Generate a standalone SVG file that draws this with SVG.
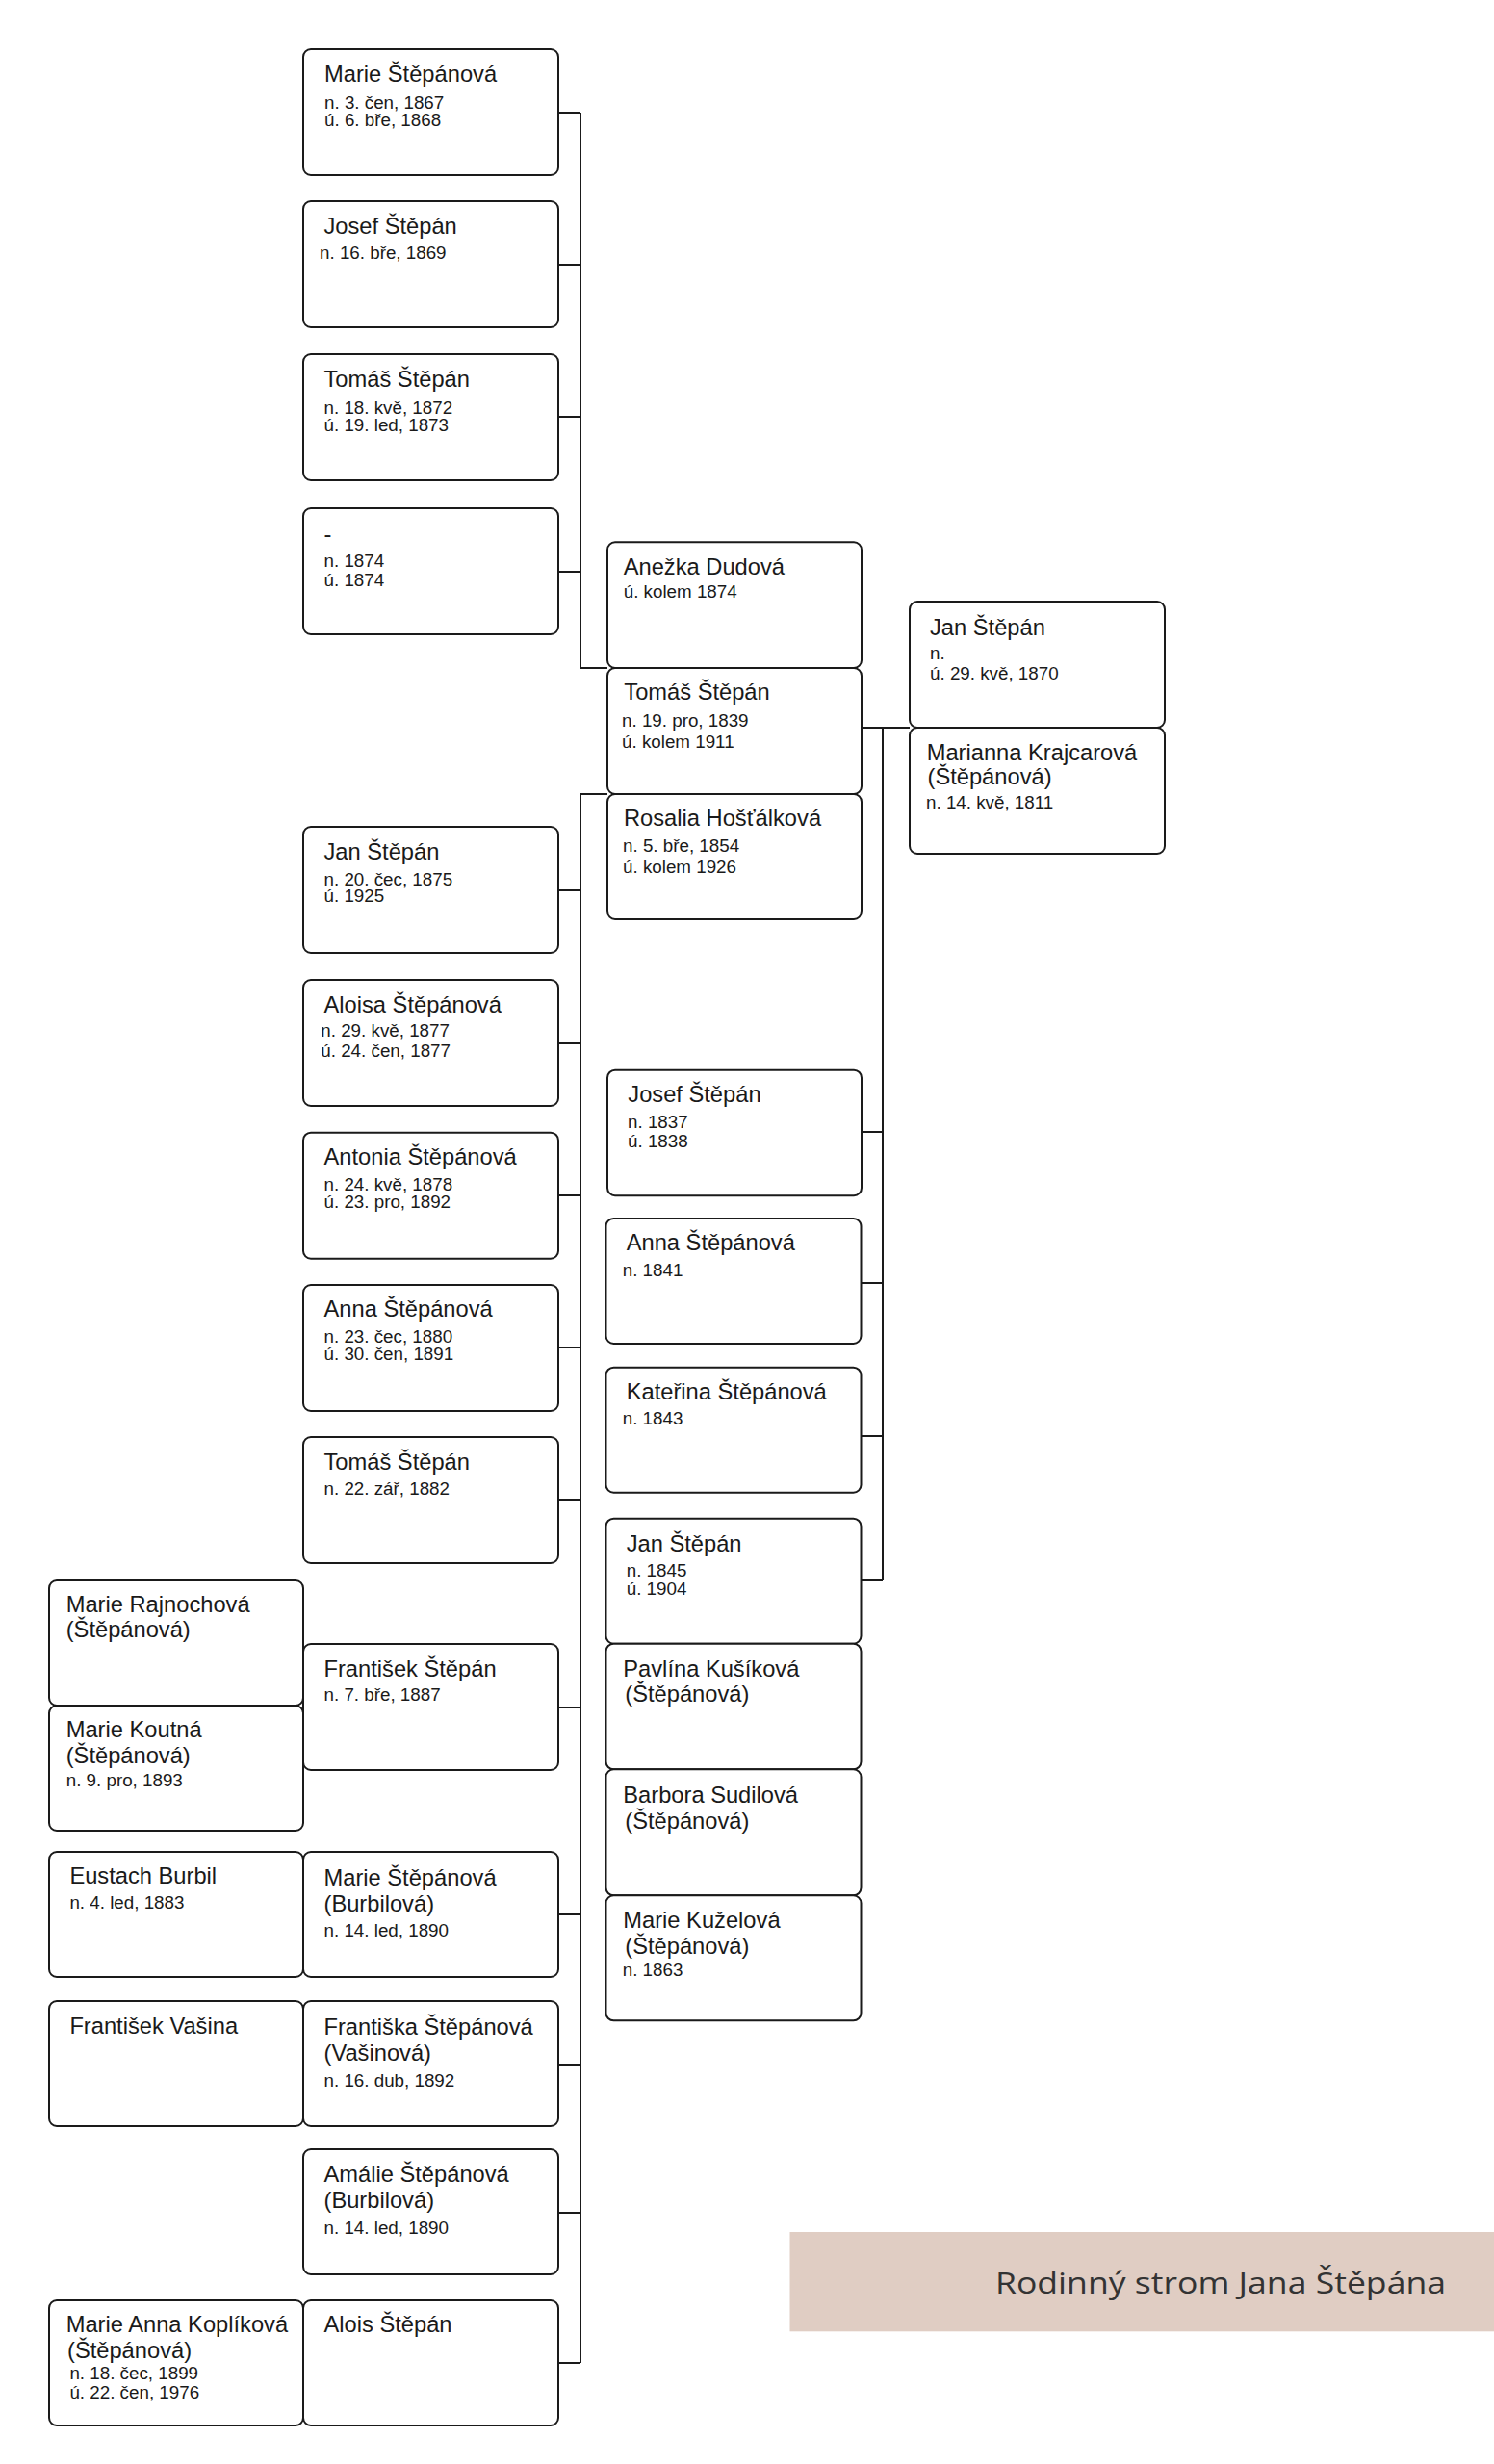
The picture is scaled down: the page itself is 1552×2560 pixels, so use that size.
<svg xmlns="http://www.w3.org/2000/svg" width="1552" height="2560" viewBox="0 0 1552 2560">
<style>
  .bx { fill: #ffffff; stroke: #1a1a1a; stroke-width: 2; }
  .nm { font-family: "Liberation Sans", Arial, sans-serif; font-size: 23.7px; fill: #1a1a1a; }
  .dt { font-family: "Liberation Sans", Arial, sans-serif; font-size: 18.8px; fill: #1a1a1a; }
  .cn { fill: none; stroke: #1a1a1a; stroke-width: 2; }
  .title { font-family: "Open Sans", Lato, sans-serif; font-size: 31px; fill: #333333; }
</style>
<rect x="0" y="0" width="1552" height="2560" fill="#ffffff"/>

<g id="connectors">
  <path class="cn" d="M580,117 H603 M580,275 H603 M580,433 H603 M580,594 H603 M603,117 V694 H631"/>
  <path class="cn" d="M631,825 H603 V2455 M580,925 H603 M580,1084 H603 M580,1242 H603 M580,1400 H603 M580,1558 H603 M580,1774 H603 M580,1989 H603 M580,2145 H603 M580,2299 H603 M580,2455 H603"/>
  <path class="cn" d="M895,756 H945 M917,756 V1642 M895,1176 H917 M895,1333 H917 M895,1492 H917 M895,1642 H917"/>
</g>

<!-- Column 1: children of Tomáš + Anežka -->
<g id="n_marie_1867">
  <rect class="bx" x="315" y="51" width="265" height="131" rx="8"/>
  <text class="nm" x="337" y="85">Marie Štěpánová</text>
  <text class="dt" x="337" y="112.5">n. 3. čen, 1867</text>
  <text class="dt" x="337" y="130.5">ú. 6. bře, 1868</text>
</g>
<g id="n_josef_1869">
  <rect class="bx" x="315" y="209" width="265" height="131" rx="8"/>
  <text class="nm" x="336.5" y="243.3">Josef Štěpán</text>
  <text class="dt" x="332" y="269.3">n. 16. bře, 1869</text>
</g>
<g id="n_tomas_1872">
  <rect class="bx" x="315" y="368" width="265" height="131" rx="8"/>
  <text class="nm" x="336.5" y="402">Tomáš Štěpán</text>
  <text class="dt" x="336.5" y="429.5">n. 18. kvě, 1872</text>
  <text class="dt" x="336.5" y="447.5">ú. 19. led, 1873</text>
</g>
<g id="n_unnamed_1874">
  <rect class="bx" x="315" y="528" width="265" height="131" rx="8"/>
  <text class="nm" x="336.5" y="563">-</text>
  <text class="dt" x="336.5" y="588.5">n. 1874</text>
  <text class="dt" x="336.5" y="609">ú. 1874</text>
</g>

<!-- Column 1: children of Tomáš + Rosalia -->
<g id="n_jan_1875">
  <rect class="bx" x="315" y="859" width="265" height="131" rx="8"/>
  <text class="nm" x="336.5" y="893.3">Jan Štěpán</text>
  <text class="dt" x="336.5" y="920">n. 20. čec, 1875</text>
  <text class="dt" x="336.5" y="937.3">ú. 1925</text>
</g>
<g id="n_aloisa_1877">
  <rect class="bx" x="315" y="1018" width="265" height="131" rx="8"/>
  <text class="nm" x="336.5" y="1051.7">Aloisa Štěpánová</text>
  <text class="dt" x="333.3" y="1077.3">n. 29. kvě, 1877</text>
  <text class="dt" x="333.3" y="1098.3">ú. 24. čen, 1877</text>
</g>
<g id="n_antonia_1878">
  <rect class="bx" x="315" y="1176.7" width="265" height="131" rx="8"/>
  <text class="nm" x="336.5" y="1210">Antonia Štěpánová</text>
  <text class="dt" x="336.5" y="1236.7">n. 24. kvě, 1878</text>
  <text class="dt" x="336.5" y="1255">ú. 23. pro, 1892</text>
</g>
<g id="n_anna_1880">
  <rect class="bx" x="315" y="1335" width="265" height="131" rx="8"/>
  <text class="nm" x="336.5" y="1368.3">Anna Štěpánová</text>
  <text class="dt" x="336.5" y="1395">n. 23. čec, 1880</text>
  <text class="dt" x="336.5" y="1413.3">ú. 30. čen, 1891</text>
</g>
<g id="n_tomas_1882">
  <rect class="bx" x="315" y="1493" width="265" height="131" rx="8"/>
  <text class="nm" x="336.5" y="1526.7">Tomáš Štěpán</text>
  <text class="dt" x="336.5" y="1553.3">n. 22. zář, 1882</text>
</g>
<g id="n_frantisek_1887">
  <rect class="bx" x="315" y="1708" width="265" height="131" rx="8"/>
  <text class="nm" x="336.5" y="1741.7">František Štěpán</text>
  <text class="dt" x="336.5" y="1767.3">n. 7. bře, 1887</text>
</g>
<g id="n_marie_burbilova">
  <rect class="bx" x="315" y="1924" width="265" height="130" rx="8"/>
  <text class="nm" x="336.5" y="1959.3">Marie Štěpánová</text>
  <text class="nm" x="336.5" y="1986">(Burbilová)</text>
  <text class="dt" x="336.5" y="2011.7">n. 14. led, 1890</text>
</g>
<g id="n_frantiska_1892">
  <rect class="bx" x="315" y="2079" width="265" height="130" rx="8"/>
  <text class="nm" x="336.5" y="2114">Františka Štěpánová</text>
  <text class="nm" x="336.5" y="2141">(Vašinová)</text>
  <text class="dt" x="336.5" y="2168.3">n. 16. dub, 1892</text>
</g>
<g id="n_amalie_1890">
  <rect class="bx" x="315" y="2233" width="265" height="130" rx="8"/>
  <text class="nm" x="336.5" y="2267.3">Amálie Štěpánová</text>
  <text class="nm" x="336.5" y="2294.3">(Burbilová)</text>
  <text class="dt" x="336.5" y="2320.7">n. 14. led, 1890</text>
</g>
<g id="n_alois">
  <rect class="bx" x="315" y="2390" width="265" height="130" rx="8"/>
  <text class="nm" x="336.5" y="2422.7">Alois Štěpán</text>
</g>

<!-- Column 0: spouses -->
<g id="n_marie_rajnochova">
  <rect class="bx" x="51" y="1642" width="264" height="130" rx="8"/>
  <text class="nm" x="68.7" y="1675">Marie Rajnochová</text>
  <text class="nm" x="68.7" y="1701">(Štěpánová)</text>
</g>
<g id="n_marie_koutna">
  <rect class="bx" x="51" y="1772" width="264" height="130" rx="8"/>
  <text class="nm" x="68.7" y="1805">Marie Koutná</text>
  <text class="nm" x="68.7" y="1831.7">(Štěpánová)</text>
  <text class="dt" x="68.7" y="1855.7">n. 9. pro, 1893</text>
</g>
<g id="n_eustach_burbil">
  <rect class="bx" x="51" y="1924" width="264" height="130" rx="8"/>
  <text class="nm" x="72.4" y="1957.3">Eustach Burbil</text>
  <text class="dt" x="72.4" y="1982.7">n. 4. led, 1883</text>
</g>
<g id="n_frantisek_vasina">
  <rect class="bx" x="51" y="2079" width="264" height="130" rx="8"/>
  <text class="nm" x="72.4" y="2112.7">František Vašina</text>
</g>
<g id="n_marie_anna_koplikova">
  <rect class="bx" x="51" y="2390" width="264" height="130" rx="8"/>
  <text class="nm" x="68.7" y="2422.7">Marie Anna Koplíková</text>
  <text class="nm" x="70" y="2450">(Štěpánová)</text>
  <text class="dt" x="72.4" y="2471.7">n. 18. čec, 1899</text>
  <text class="dt" x="72.4" y="2491.7">ú. 22. čen, 1976</text>
</g>

<!-- Column 2 -->
<g id="n_anezka_dudova">
  <rect class="bx" x="631" y="563.3" width="264" height="130.7" rx="8"/>
  <text class="nm" x="647.7" y="596.7">Anežka Dudová</text>
  <text class="dt" x="647.7" y="621">ú. kolem 1874</text>
</g>
<g id="n_tomas_1839">
  <rect class="bx" x="631" y="694" width="264" height="131" rx="8"/>
  <text class="nm" x="648.3" y="727.3">Tomáš Štěpán</text>
  <text class="dt" x="646" y="755">n. 19. pro, 1839</text>
  <text class="dt" x="646" y="777">ú. kolem 1911</text>
</g>
<g id="n_rosalia_hostalkova">
  <rect class="bx" x="631" y="825" width="264" height="130" rx="8"/>
  <text class="nm" x="648" y="858">Rosalia Hošťálková</text>
  <text class="dt" x="647" y="884.5">n. 5. bře, 1854</text>
  <text class="dt" x="647" y="906.5">ú. kolem 1926</text>
</g>
<g id="n_josef_1837">
  <rect class="bx" x="631" y="1111.7" width="264" height="130.5" rx="8"/>
  <text class="nm" x="652.3" y="1145">Josef Štěpán</text>
  <text class="dt" x="652" y="1171.7">n. 1837</text>
  <text class="dt" x="652" y="1191.7">ú. 1838</text>
</g>
<g id="n_anna_1841">
  <rect class="bx" x="629.5" y="1266" width="265" height="130" rx="8"/>
  <text class="nm" x="650.7" y="1299.3">Anna Štěpánová</text>
  <text class="dt" x="646.7" y="1326">n. 1841</text>
</g>
<g id="n_katerina_1843">
  <rect class="bx" x="629.5" y="1420.7" width="265" height="130" rx="8"/>
  <text class="nm" x="650.7" y="1454.3">Kateřina Štěpánová</text>
  <text class="dt" x="646.7" y="1480">n. 1843</text>
</g>
<g id="n_jan_1845">
  <rect class="bx" x="629.5" y="1577.7" width="265" height="130" rx="8"/>
  <text class="nm" x="650.7" y="1611.7">Jan Štěpán</text>
  <text class="dt" x="650.7" y="1637.7">n. 1845</text>
  <text class="dt" x="650.7" y="1657.3">ú. 1904</text>
</g>
<g id="n_pavlina_kusikova">
  <rect class="bx" x="629.5" y="1707.7" width="265" height="130.6" rx="8"/>
  <text class="nm" x="647.3" y="1741.7">Pavlína Kušíková</text>
  <text class="nm" x="649.3" y="1768.3">(Štěpánová)</text>
</g>
<g id="n_barbora_sudilova">
  <rect class="bx" x="629.5" y="1838.3" width="265" height="131" rx="8"/>
  <text class="nm" x="647.3" y="1873.3">Barbora Sudilová</text>
  <text class="nm" x="649.3" y="1900">(Štěpánová)</text>
</g>
<g id="n_marie_kuzelova">
  <rect class="bx" x="629.5" y="1969.3" width="265" height="130" rx="8"/>
  <text class="nm" x="647.3" y="2003.3">Marie Kuželová</text>
  <text class="nm" x="649.3" y="2030">(Štěpánová)</text>
  <text class="dt" x="646.7" y="2052.7">n. 1863</text>
</g>

<!-- Column 3: parents -->
<g id="n_jan_1870">
  <rect class="bx" x="945" y="625" width="265" height="131" rx="8"/>
  <text class="nm" x="966" y="660">Jan Štěpán</text>
  <text class="dt" x="966" y="685">n.</text>
  <text class="dt" x="966" y="706">ú. 29. kvě, 1870</text>
</g>
<g id="n_marianna_krajcarova">
  <rect class="bx" x="945" y="756" width="265" height="131" rx="8"/>
  <text class="nm" x="962.7" y="790">Marianna Krajcarová</text>
  <text class="nm" x="963.5" y="815">(Štěpánová)</text>
  <text class="dt" x="962" y="840">n. 14. kvě, 1811</text>
</g>

<!-- Title -->
<g id="title">
  <rect x="820.5" y="2319" width="731.5" height="103.3" fill="#e0cdc3"/>
  <text class="title" x="1034" y="2383.3" textLength="468" lengthAdjust="spacingAndGlyphs">Rodinný strom Jana Štěpána</text>
</g>
</svg>
